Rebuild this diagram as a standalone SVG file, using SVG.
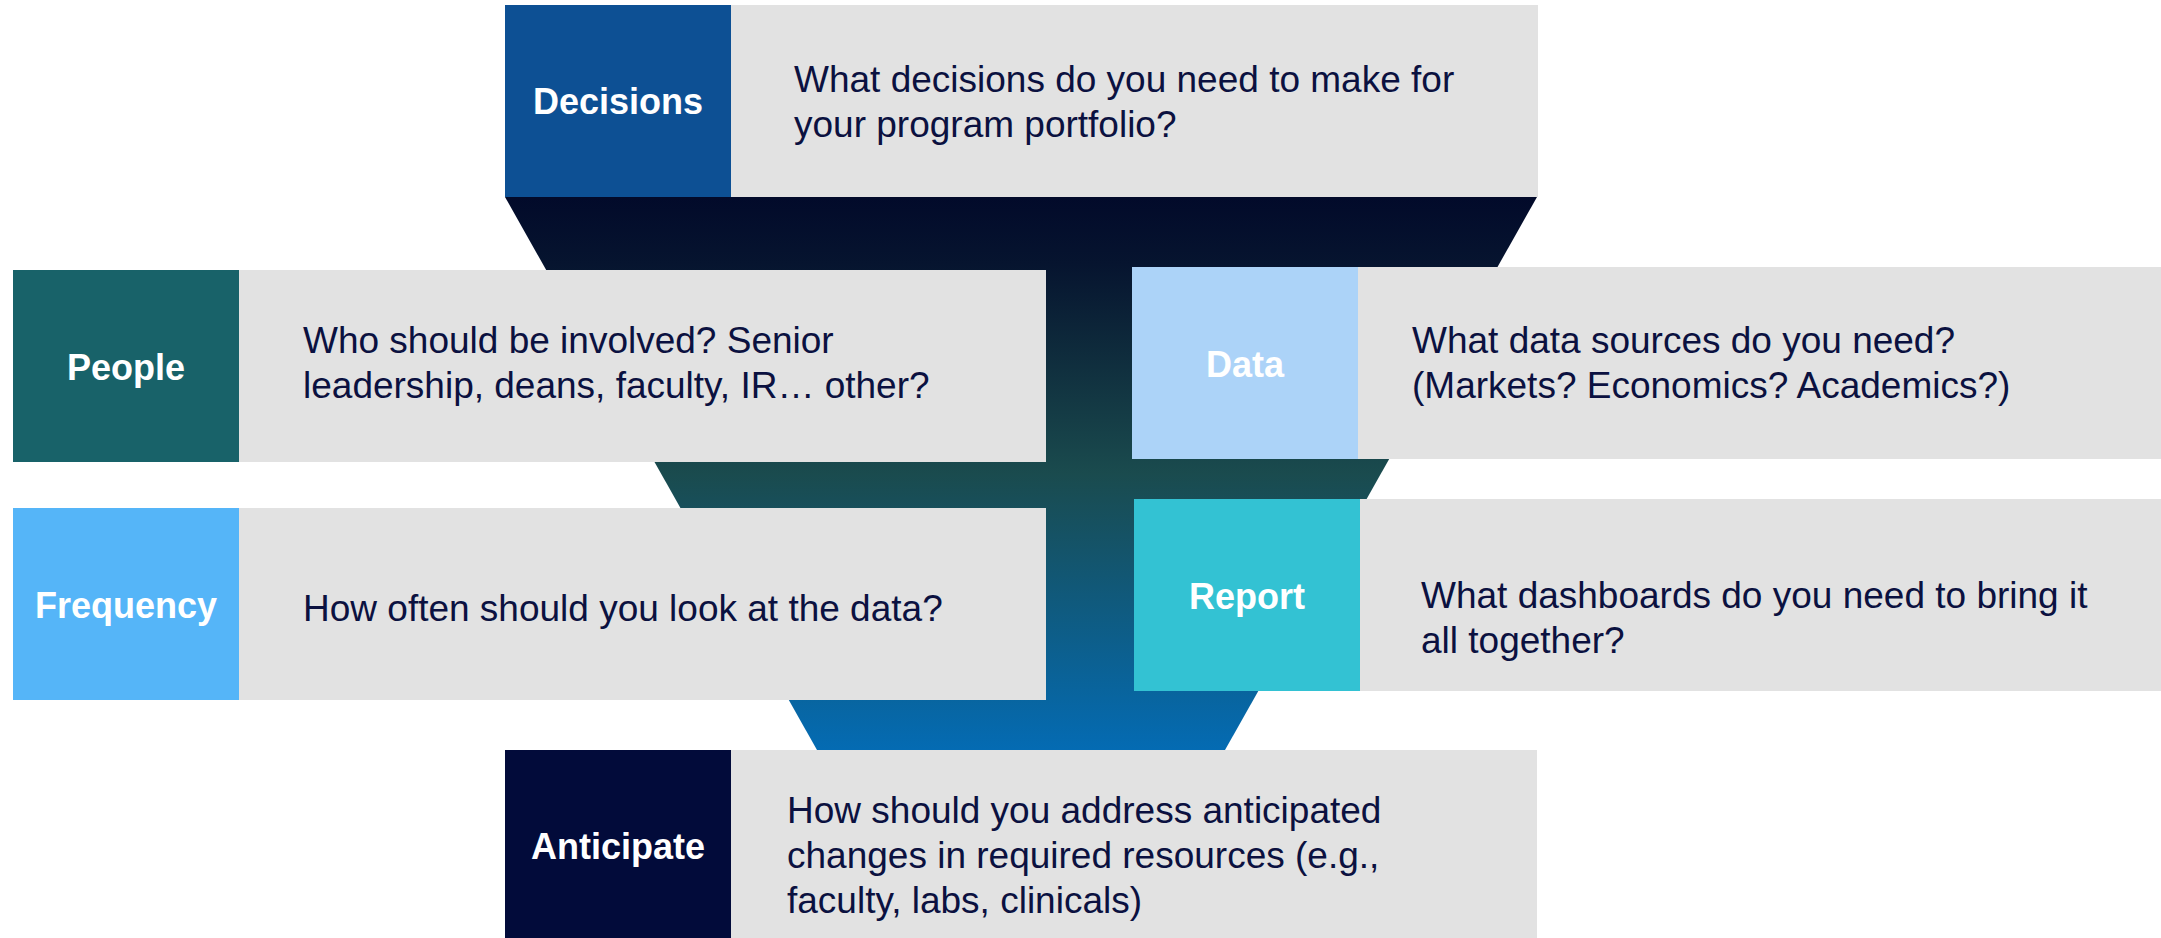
<svg xmlns="http://www.w3.org/2000/svg" width="2161" height="938" viewBox="0 0 2161 938">
  <defs>
    <linearGradient id="funnelGrad" x1="0" y1="197" x2="0" y2="750" gradientUnits="userSpaceOnUse">
      <stop offset="0" stop-color="#020a2a"/>
      <stop offset="0.12" stop-color="#06142f"/>
      <stop offset="0.5" stop-color="#1a4b4e"/>
      <stop offset="1" stop-color="#046bb3"/>
    </linearGradient>
    <style>
      .panel { fill: #e2e2e2; }
      .label { font-family: "Liberation Sans", Arial, sans-serif; font-weight: bold; font-size: 36px; fill: #ffffff; text-anchor: middle; }
      .body { font-family: "Liberation Sans", Arial, sans-serif; font-size: 37px; fill: #0b1140; }
    </style>
  </defs>
  <rect x="0" y="0" width="2161" height="938" fill="#ffffff"/>

  <g id="funnel">
    <polygon points="505,197 1537,197 1225,750 817,750" fill="url(#funnelGrad)"/>
  </g>

  <g id="connectors"></g>

  <g id="decisions">
    <rect x="505" y="5" width="226" height="192" fill="#0d5094"/>
    <rect class="panel" x="731" y="5" width="807" height="192"/>
    <text class="label" x="618" y="114">Decisions</text>
    <text class="body" x="794" y="92">What decisions do you need to make for</text>
    <text class="body" x="794" y="137">your program portfolio?</text>
  </g>

  <g id="people">
    <rect x="13" y="270" width="226" height="192" fill="#186269"/>
    <rect class="panel" x="239" y="270" width="807" height="192"/>
    <text class="label" x="126" y="380">People</text>
    <text class="body" x="303" y="353">Who should be involved? Senior</text>
    <text class="body" x="303" y="398">leadership, deans, faculty, IR… other?</text>
  </g>

  <g id="data">
    <rect x="1132" y="267" width="226" height="192" fill="#acd3f8"/>
    <rect class="panel" x="1358" y="267" width="803" height="192"/>
    <text class="label" x="1245" y="377">Data</text>
    <text class="body" x="1412" y="353">What data sources do you need?</text>
    <text class="body" x="1412" y="398">(Markets? Economics? Academics?)</text>
  </g>

  <g id="frequency">
    <rect x="13" y="508" width="226" height="192" fill="#55b5f8"/>
    <rect class="panel" x="239" y="508" width="807" height="192"/>
    <text class="label" x="126" y="618">Frequency</text>
    <text class="body" x="303" y="621">How often should you look at the data?</text>
  </g>

  <g id="report">
    <rect x="1134" y="499" width="226" height="192" fill="#33c2d3"/>
    <rect class="panel" x="1360" y="499" width="801" height="192"/>
    <text class="label" x="1247" y="609">Report</text>
    <text class="body" x="1421" y="608">What dashboards do you need to bring it</text>
    <text class="body" x="1421" y="653">all together?</text>
  </g>

  <g id="anticipate">
    <rect x="505" y="750" width="226" height="192" fill="#020b3a"/>
    <rect class="panel" x="731" y="750" width="806" height="192"/>
    <text class="label" x="618" y="859">Anticipate</text>
    <text class="body" x="787" y="823">How should you address anticipated</text>
    <text class="body" x="787" y="868">changes in required resources (e.g.,</text>
    <text class="body" x="787" y="913">faculty, labs, clinicals)</text>
  </g>
</svg>
